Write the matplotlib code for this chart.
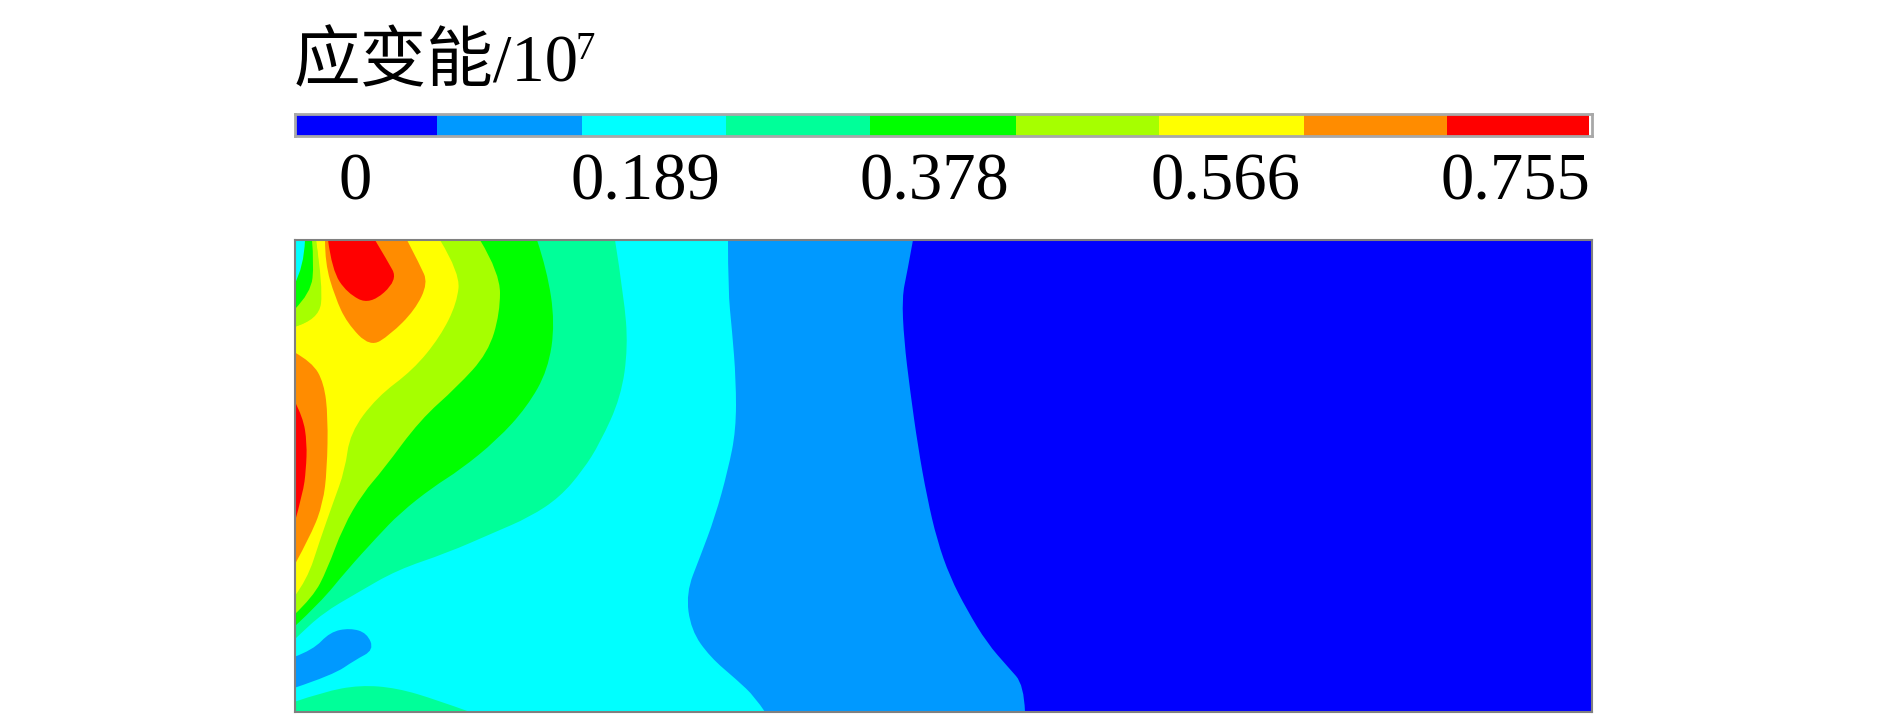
import matplotlib
matplotlib.use("Agg")
import matplotlib.pyplot as plt
from matplotlib.path import Path
from matplotlib.patches import PathPatch

W, H = 1890, 715
plt.rcParams['font.family'] = ['Liberation Serif', 'Noto Sans CJK SC']

# colour scale
level_colours = ["#0000ff", "#0099ff", "#00ffff", "#00ff99", "#00ff00",
                 "#a6ff00", "#ffff00", "#ff8c00", "#ff0000"]
bar_edges = [296, 437, 582, 726, 870, 1016, 1159, 1304, 1447, 1589]
tick_pos = [355, 645, 934, 1226, 1515]
tick_labels = ["0", "0.189", "0.378", "0.566", "0.755"]

# contour outlines (pixel units along the strip)
light_blue = [(913, 240), (907, 273), (902, 297), (904, 340), (910, 390), (918, 447), (927, 497),
              (937, 540), (950, 577), (967, 610), (987, 643), (1008, 667), (1024, 685), (1025, 712),
              (294, 712), (294, 240)]
cyan = [(728, 240), (728, 290), (732, 330), (736, 380), (736, 430), (728, 470), (715, 517),
        (700, 557), (686, 593), (691, 630), (710, 657), (737, 680), (755, 697), (765, 712),
        (294, 712), (294, 240)]
aqua = [(615, 240), (624, 297), (628, 347), (621, 397), (600, 443), (583, 470), (560, 497),
        (530, 517), (493, 533), (447, 553), (397, 570), (357, 593), (323, 613), (297, 637),
        (294, 640), (294, 240)]
green = [(537, 240), (547, 270), (555, 323), (548, 370), (527, 407), (497, 440), (460, 470),
         (433, 487), (400, 513), (377, 537), (347, 570), (320, 603), (294, 627), (294, 240)]
lime = [(480, 240), (500, 273), (500, 313), (488, 353), (457, 387), (420, 420), (383, 470),
        (363, 493), (343, 527), (327, 570), (313, 597), (294, 615), (294, 240)]
yellow = [(316, 240), (440, 240), (460, 273), (457, 303), (440, 337), (413, 370), (377, 397),
          (350, 433), (345, 470), (333, 503), (320, 540), (307, 580), (294, 597), (294, 327),
          (319, 320), (323, 287)]
orange_top = [(325, 240), (325, 263), (335, 297), (347, 323), (370, 347), (390, 335), (415, 310),
              (428, 283), (420, 265), (407, 240)]
orange_left = [(294, 352), (312, 362), (324, 383), (328, 417), (327, 470), (323, 503), (312, 533),
               (294, 566)]
red_top = [(328, 240), (332, 270), (347, 293), (370, 305), (398, 280), (387, 260), (375, 240)]
red_left = [(294, 400), (303, 417), (307, 443), (306, 470), (303, 493), (294, 525)]
pocket_lime = [(294, 240), (316, 240), (322, 287), (317, 320), (294, 327)]
pocket_green = [(294, 240), (312, 240), (314, 263), (311, 293), (294, 310)]
pocket_cyan = [(294, 240), (305, 240), (304, 267), (294, 285)]
blob_blue = [(294, 657), (313, 650), (330, 632), (350, 628), (367, 633), (374, 650), (355, 660),
             (333, 675), (294, 688)]
blob_aqua = [(294, 702), (323, 692), (360, 685), (397, 688), (437, 700), (470, 712), (294, 712)]

layers = [(light_blue, 1), (cyan, 2), (aqua, 3), (green, 4), (lime, 5), (yellow, 6),
          (orange_top, 7), (orange_left, 7), (red_top, 8), (red_left, 8),
          (pocket_lime, 5), (pocket_green, 4), (pocket_cyan, 2), (blob_blue, 1), (blob_aqua, 3)]


def on_frame(p):
    return p[0] == 294 or p[1] == 240 or p[1] == 712


def outline_path(outline):
    # points on the frame stay corners, the others pull a quadratic curve
    pts = outline + [outline[0]]
    verts = [pts[0]]
    codes = [Path.MOVETO]
    i = 1
    while i < len(pts):
        p = pts[i]
        if on_frame(p):
            verts.append(p)
            codes.append(Path.LINETO)
            i += 1
            continue
        nxt = pts[i + 1]
        if on_frame(nxt):
            end = nxt
            i += 2
        else:
            end = ((p[0] + nxt[0]) / 2, (p[1] + nxt[1]) / 2)
            i += 1
        verts += [p, end]
        codes += [Path.CURVE3, Path.CURVE3]
    return Path(verts, codes)


def px_axes(fig, x0, x1, y0, y1):
    ax = fig.add_axes([x0 / W, 1 - y1 / H, (x1 - x0) / W, (y1 - y0) / H])
    ax.set_xlim(x0, x1)
    ax.set_ylim(y1, y0)
    return ax


fig = plt.figure(figsize=(W / 100, H / 100), dpi=100)

# colour bar
ax_bar = px_axes(fig, 295, 1592, 114, 136)
for i, c in enumerate(level_colours):
    ax_bar.barh(125, bar_edges[i + 1] - bar_edges[i], left=bar_edges[i], height=22, color=c, linewidth=0)
ax_bar.set_yticks([])
ax_bar.set_xticks(tick_pos)
ax_bar.set_xticklabels(tick_labels, fontsize=48)
ax_bar.tick_params(axis='x', length=0, pad=12)
for s in ax_bar.spines.values():
    s.set_color("#a8a8a8")
    s.set_linewidth(2)

# contour field
ax = px_axes(fig, 295, 1592, 240, 712)
ax.set_facecolor(level_colours[0])
for outline, idx in layers:
    ax.add_patch(PathPatch(outline_path(outline), facecolor=level_colours[idx], linewidth=0))
ax.set_xticks([])
ax.set_yticks([])
for s in ax.spines.values():
    s.set_color("#808080")
    s.set_linewidth(1.5)

fig.text(294 / W, 1 - 81 / H, "应变能/10", fontsize=48, va='baseline', color='black')
fig.text(576 / W, 1 - 59 / H, "7", fontsize=28, va='baseline', color='black')

fig.savefig("out.png", dpi=100)
